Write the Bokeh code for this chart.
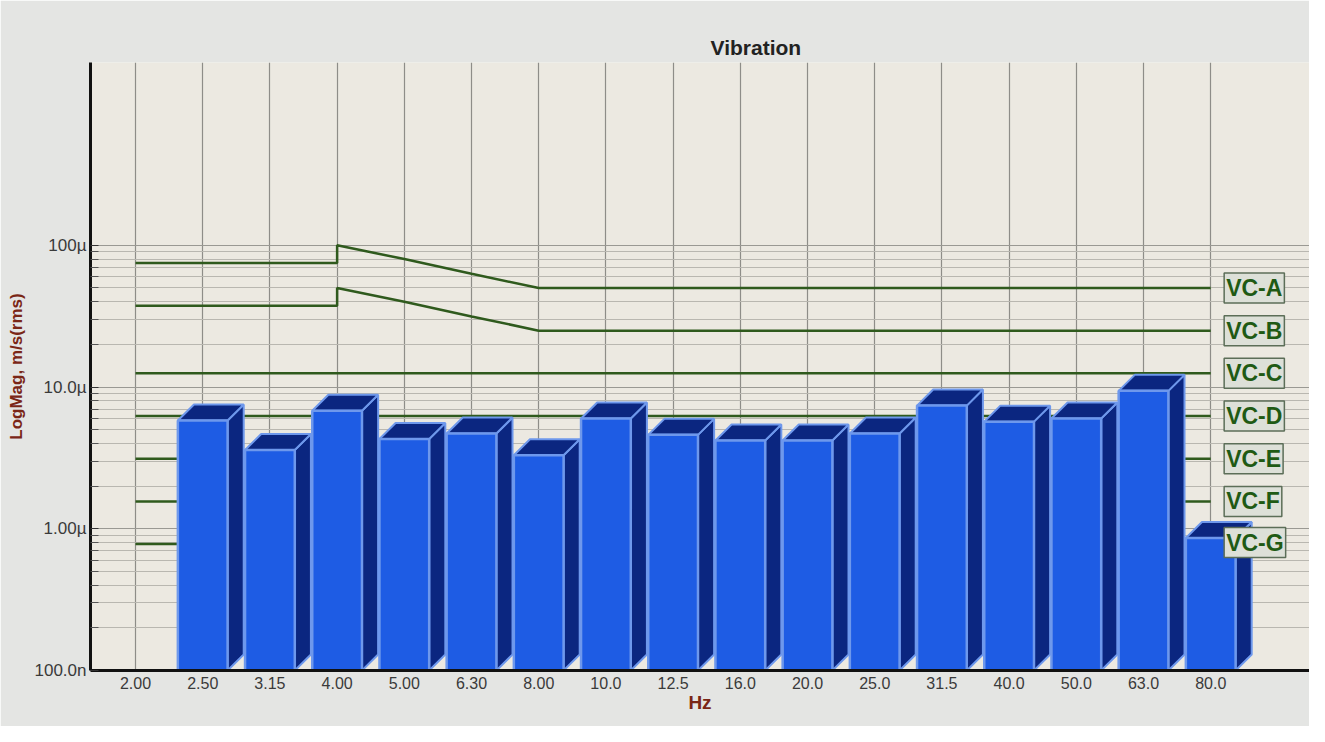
from bokeh.plotting import figure
from bokeh.models import FixedTicker, CustomJSTickFormatter, Label, Range1d
from bokeh.embed import file_html
from bokeh.resources import INLINE

# ---------------- data ----------------
freq_labels = ["2.00", "2.50", "3.15", "4.00", "5.00", "6.30", "8.00", "10.0", "12.5",
               "16.0", "20.0", "25.0", "31.5", "40.0", "50.0", "63.0", "80.0"]

bar_freqs = ["2.50", "3.15", "4.00", "5.00", "6.30", "8.00", "10.0", "12.5",
             "16.0", "20.0", "25.0", "31.5", "40.0", "50.0", "63.0", "80.0"]
bar_values = [5.8e-6, 3.6e-6, 6.8e-6, 4.3e-6, 4.7e-6, 3.3e-6, 6.0e-6, 4.6e-6,
              4.2e-6, 4.2e-6, 4.7e-6, 7.4e-6, 5.7e-6, 6.0e-6, 9.4e-6, 0.86e-6]

# vibration criteria curves (m/s rms)
vc_a_freqs = ["2.00", "4.00", "4.00", "5.00", "6.30", "8.00", "80.0"]
vc_a_values = [75e-6, 75e-6, 100e-6, 80e-6, 63e-6, 50e-6, 50e-6]
vc_b_freqs = ["2.00", "4.00", "4.00", "5.00", "6.30", "8.00", "80.0"]
vc_b_values = [37.5e-6, 37.5e-6, 50e-6, 40e-6, 31.5e-6, 25e-6, 25e-6]
vc_flat_names = ["VC-C", "VC-D", "VC-E", "VC-F", "VC-G"]
vc_flat_values = [12.5e-6, 6.25e-6, 3.12e-6, 1.56e-6, 0.78e-6]

vc_names = ["VC-A", "VC-B", "VC-C", "VC-D", "VC-E", "VC-F", "VC-G"]
vc_label_values = [50e-6, 25e-6, 12.5e-6, 6.25e-6, 3.12e-6, 1.56e-6, 0.8e-6]

y_tick_values = [1e-7, 1e-6, 1e-5, 1e-4]
y_tick_labels = ["100.0n", "1.00\u00b5", "10.0\u00b5", "100\u00b5"]

# ---------------- styling ----------------
FONT = "Liberation Sans"
LINE_GREEN = "#2f5a1d"
FRONT = "#1e5ce4"
DARK = "#0b2680"
EDGE = "#6e98ec"

idx = {f: i for i, f in enumerate(freq_labels)}

p = figure(width=1309, height=726, y_axis_type="log",
           x_range=Range1d(-0.67, 17.47), y_range=Range1d(1e-7, 1.95e-3),
           output_backend="svg", toolbar_location=None,
           min_border_left=90, min_border_right=0, min_border_top=62, min_border_bottom=56)

p.background_fill_color = "#ece9e1"
p.border_fill_color = "#e4e5e3"
p.outline_line_color = None

# title
p.title.text = "Vibration"
p.title.align = "left"
p.title.offset = 620
p.title.text_font = FONT
p.title.text_font_size = "21px"
p.title.text_font_style = "bold"
p.title.text_color = "#222222"
p.title.standoff = 8

# y axis
minor = [m * d for d in y_tick_values[:-1] for m in range(2, 10)]
p.yaxis.ticker = FixedTicker(ticks=y_tick_values, minor_ticks=minor)
p.yaxis.formatter = CustomJSTickFormatter(
    args=dict(vals=y_tick_values, labs=y_tick_labels),
    code="""
    for (let i = 0; i < vals.length; i++) {
        if (Math.abs(Math.log10(tick) - Math.log10(vals[i])) < 1e-6) return labs[i];
    }
    return "";
    """)
p.yaxis.axis_label = "LogMag, m/s(rms)"
p.yaxis.axis_label_text_font = FONT
p.yaxis.axis_label_text_font_size = "17px"
p.yaxis.axis_label_text_font_style = "bold"
p.yaxis.axis_label_text_color = "#7a2616"
p.yaxis.axis_label_standoff = 6
p.yaxis.major_label_text_font = FONT
p.yaxis.major_label_text_font_size = "17px"
p.yaxis.major_label_text_color = "#3a3a3a"
p.yaxis.major_label_standoff = 4
p.yaxis.axis_line_color = "#111111"
p.yaxis.axis_line_width = 3
p.yaxis.major_tick_in = 8
p.yaxis.major_tick_out = 0
p.yaxis.minor_tick_in = 8
p.yaxis.minor_tick_out = 0
p.yaxis.major_tick_line_color = "#333333"
p.yaxis.minor_tick_line_color = "#555555"

# x axis
p.xaxis.ticker = FixedTicker(ticks=list(range(len(freq_labels))))
p.xaxis.major_label_overrides = {i: f for i, f in enumerate(freq_labels)}
p.xaxis.minor_tick_line_color = None
p.xaxis.major_tick_line_color = None
p.xaxis.axis_line_color = "#111111"
p.xaxis.axis_line_width = 3
p.xaxis.major_label_text_font = FONT
p.xaxis.major_label_text_font_size = "16px"
p.xaxis.major_label_text_color = "#3a3a3a"
p.xaxis.major_label_standoff = 0
p.xaxis.axis_label = "Hz"
p.xaxis.axis_label_text_font = FONT
p.xaxis.axis_label_text_font_size = "19px"
p.xaxis.axis_label_text_font_style = "bold"
p.xaxis.axis_label_text_color = "#7a2616"
p.xaxis.axis_label_standoff = 0

# grids
p.xgrid.grid_line_color = "#8e8d88"
p.xgrid.grid_line_width = 1.2
p.ygrid.grid_line_color = "#9a9993"
p.ygrid.grid_line_width = 1.2
p.ygrid.minor_grid_line_color = "#b9b7b0"
p.ygrid.minor_grid_line_width = 1

# criteria lines
p.line([idx[f] for f in vc_a_freqs], vc_a_values, line_color=LINE_GREEN, line_width=2.5)
p.line([idx[f] for f in vc_b_freqs], vc_b_values, line_color=LINE_GREEN, line_width=2.5)
for v in vc_flat_values:
    p.line([idx[freq_labels[0]], idx[freq_labels[-1]]], [v, v], line_color=LINE_GREEN, line_width=2.5)

# 3D bars
half_w = 0.37
dx = 0.24
fy = 10 ** (16 / 141.7)
base = 1e-7
xs_c = [idx[f] for f in bar_freqs]

top_xs, top_ys, side_xs, side_ys = [], [], [], []
for xc, v in zip(xs_c, bar_values):
    l, r = xc - half_w, xc + half_w
    top_xs.append([l, l + dx, r + dx, r])
    top_ys.append([v, v * fy, v * fy, v])
    side_xs.append([r, r, r + dx, r + dx])
    side_ys.append([base, v, v * fy, base * fy])

p.patches(side_xs, side_ys, fill_color=DARK, line_color=EDGE, line_width=2)
p.patches(top_xs, top_ys, fill_color=DARK, line_color=EDGE, line_width=2)
p.quad(left=[x - half_w for x in xs_c], right=[x + half_w for x in xs_c],
       bottom=[base] * len(xs_c), top=bar_values,
       fill_color=FRONT, line_color=EDGE, line_width=2.5)

# criteria labels
for name, v in zip(vc_names, vc_label_values):
    p.add_layout(Label(x=16.2, y=v, text=name, text_align="left", text_baseline="middle",
                       text_font=FONT, text_font_size="23px", text_font_style="bold",
                       text_color="#1f5a14", background_fill_color="#dde0d8",
                       border_line_color="#5c6e58", border_line_width=1.5, padding=2))

open("out.html", "w").write(file_html(p, INLINE))
